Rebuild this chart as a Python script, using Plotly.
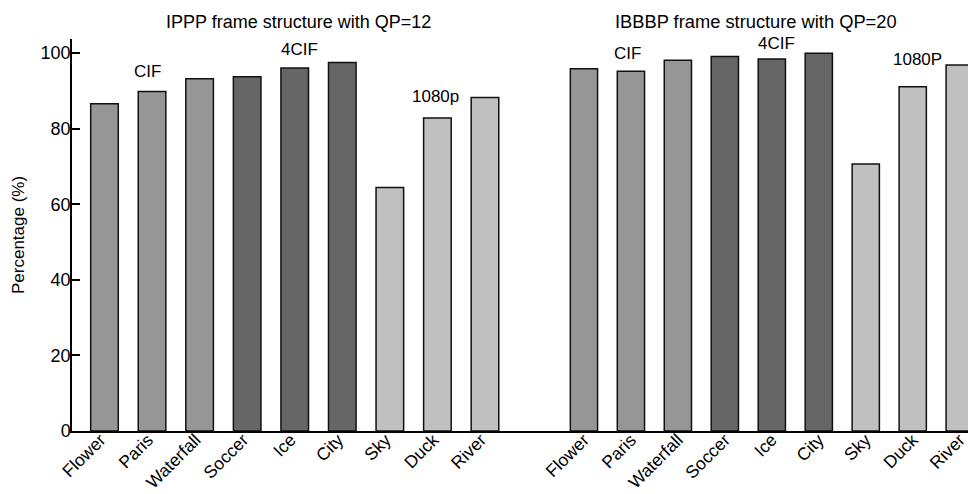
import plotly.graph_objects as go

categories = ["Flower", "Paris", "Waterfall", "Soccer", "Ice", "City", "Sky", "Duck", "River"]
ippp_qp12 = [86.6, 89.8, 93.2, 93.7, 96.0, 97.5, 64.4, 82.8, 88.2]
ibbbp_qp20 = [95.8, 95.2, 98.1, 99.1, 98.4, 99.9, 70.6, 91.1, 96.8]
resolution = ["CIF", "CIF", "CIF", "4CIF", "4CIF", "4CIF", "1080p", "1080p", "1080p"]
res_colors = {"CIF": "#969696", "4CIF": "#666666", "1080p": "#c0c0c0"}
panel_titles = ["IPPP frame structure with QP=12", "IBBBP frame structure with QP=20"]

FONT = "Liberation Sans, Arial, Helvetica, sans-serif"
colors = [res_colors[r] for r in resolution]

fig = go.Figure()
fig.add_trace(go.Bar(x=categories, y=ippp_qp12, xaxis="x", yaxis="y",
                     marker=dict(color=colors, line=dict(color="#111111", width=1.5)),
                     showlegend=False))
fig.add_trace(go.Bar(x=categories, y=ibbbp_qp20, xaxis="x2", yaxis="y",
                     marker=dict(color=colors, line=dict(color="#111111", width=1.5)),
                     showlegend=False))

axis_common = dict(
    type="category", showgrid=False, zeroline=False, showline=True,
    linecolor="black", linewidth=1.5, ticks="", tickangle=-45,
    tickfont=dict(family=FONT, size=17.5, color="black"), fixedrange=True,
    automargin=False, ticklabelstandoff=-10,
)
split = 0.5088
# page body has an 8px default margin: figure is sized/offset to compensate
fig.update_layout(
    width=968, height=486,
    margin=dict(l=64, r=0, t=31, b=63),
    plot_bgcolor="white", paper_bgcolor="white",
    bargap=0.42,
    font=dict(family=FONT, size=18, color="black"),
    xaxis=dict(domain=[0, split], range=[-0.683, 8.988], ticklabelshift=-4, **axis_common),
    xaxis2=dict(domain=[split, 1], range=[-1.107, 8.347], anchor="y", ticklabelshift=0,
                **axis_common),
    yaxis=dict(range=[0, 103.7], tickvals=[0, 20, 40, 60, 80, 100], showgrid=False,
               zeroline=False, showline=True, linecolor="black", linewidth=1.5,
               ticks="inside", ticklen=8, tickwidth=1.5, tickcolor="black",
               tickfont=dict(family=FONT, size=18, color="black"),
               ticklabelstandoff=-4, fixedrange=True, automargin=False),
)

annotations = [
    dict(text=panel_titles[0], xref="paper", yref="paper", x=0.25, y=1.0434,
         xanchor="center", yanchor="middle", showarrow=False, font=dict(size=18)),
    dict(text=panel_titles[1], xref="paper", yref="paper", x=0.7566, y=1.0434,
         xanchor="center", yanchor="middle", showarrow=False, font=dict(size=18.3)),
    dict(text="Percentage (%)", xref="paper", yref="paper", x=-0.0597, y=0.5,
         textangle=-90, xanchor="center", yanchor="middle", showarrow=False,
         font=dict(size=17)),
    dict(text="CIF", xref="x", yref="y", x=0.9, y=95.1, showarrow=False, font=dict(size=17)),
    dict(text="4CIF", xref="x", yref="y", x=4.09, y=101.0, showarrow=False, font=dict(size=17)),
    dict(text="1080p", xref="x", yref="y", x=6.96, y=88.5, showarrow=False, font=dict(size=17)),
    dict(text="CIF", xref="x2", yref="y", x=0.93, y=99.9, showarrow=False, font=dict(size=17)),
    dict(text="4CIF", xref="x2", yref="y", x=4.09, y=102.6, showarrow=False, font=dict(size=17)),
    dict(text="1080P", xref="x2", yref="y", x=7.1, y=98.3, showarrow=False, font=dict(size=17)),
]
fig.update_layout(annotations=annotations)

fig.write_html("out.html")
